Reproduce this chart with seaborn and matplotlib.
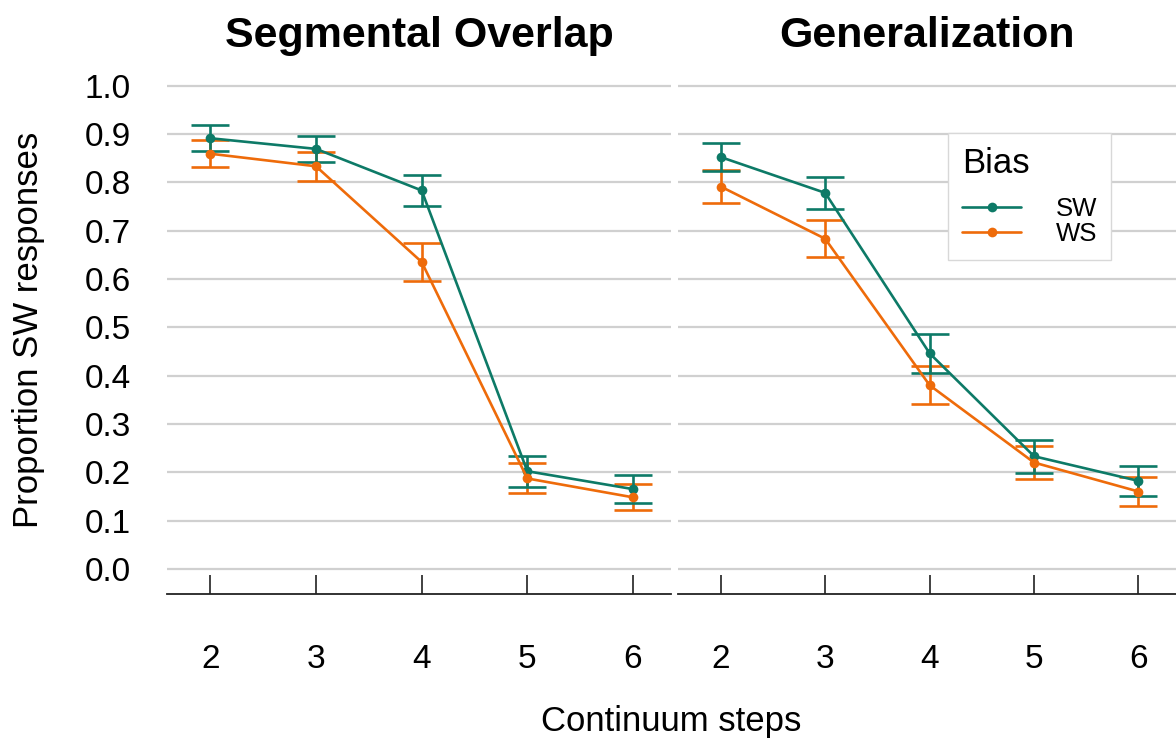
import numpy as np
import pandas as pd
import matplotlib
matplotlib.use("Agg")
import matplotlib.pyplot as plt
import seaborn as sns

# Valeurs (moyenne et erreur standard)
steps = [2, 3, 4, 5, 6]
panels = ["Segmental Overlap", "Generalization"]
biases = ["SW", "WS"]

seg_sw = [0.891, 0.869, 0.783, 0.202, 0.165]
seg_sw_se = [0.027, 0.027, 0.032, 0.032, 0.029]
seg_ws = [0.859, 0.833, 0.635, 0.187, 0.148]
seg_ws_se = [0.028, 0.030, 0.039, 0.031, 0.027]

gen_sw = [0.852, 0.778, 0.446, 0.233, 0.182]
gen_sw_se = [0.029, 0.033, 0.040, 0.034, 0.031]
gen_ws = [0.791, 0.683, 0.380, 0.220, 0.160]
gen_ws_se = [0.034, 0.038, 0.039, 0.034, 0.030]

rows = []
for panel, series in zip(panels, [(seg_sw, seg_sw_se, seg_ws, seg_ws_se),
                                  (gen_sw, gen_sw_se, gen_ws, gen_ws_se)]):
    for bias, vals, ses in [("SW", series[0], series[1]), ("WS", series[2], series[3])]:
        for s, v, e in zip(steps, vals, ses):
            rows.append({"panel": panel, "Bias": bias, "step": s, "prop": v, "se": e})
df = pd.DataFrame(rows)

couleurs = {"SW": "#0D7A67", "WS": "#EE6B0A"}

sns.set_style("white")
plt.rcParams["font.family"] = ["Liberation Sans", "DejaVu Sans"]
plt.rcParams["text.color"] = "black"
plt.rcParams["xtick.color"] = "#333333"
plt.rcParams["xtick.labelcolor"] = "black"
plt.rcParams["ytick.labelcolor"] = "black"

fig = plt.figure(figsize=(11.76, 7.42), dpi=100)
h = 0.899 - 0.1995
ax1 = fig.add_axes([0.142, 0.1995, 0.4286, h])
ax2 = fig.add_axes([0.5765, 0.1995, 0.4235, h], sharey=ax1)

for ax, panel in zip([ax1, ax2], panels):
    d = df[df["panel"] == panel]
    for bias in ["WS", "SW"]:
        b = d[d["Bias"] == bias]
        ax.errorbar(b["step"], b["prop"], yerr=b["se"], fmt="none",
                    ecolor=couleurs[bias], elinewidth=1.9, capsize=13.5,
                    capthick=1.9, zorder=3)
    sns.lineplot(data=d, x="step", y="prop", hue="Bias", hue_order=biases,
                 palette=couleurs, marker="o", markersize=7, markeredgewidth=0,
                 linewidth=1.9, ax=ax, legend=(ax is ax2), zorder=4)
    ax.set_title(panel, fontsize=31, fontweight="bold", pad=20, color="black")
    ax.set_xlim(1.59, 6.36)
    ax.set_ylim(-0.052, 1.022)
    ax.set_xticks(steps)
    ax.set_yticks(np.arange(0, 1.01, 0.1))
    ax.yaxis.grid(True, color="#D0D0D0", linewidth=1.6)
    ax.xaxis.grid(False)
    for side in ["top", "right", "left"]:
        ax.spines[side].set_visible(False)
    ax.spines["bottom"].set_color("#222222")
    ax.spines["bottom"].set_linewidth(1.3)
    ax.tick_params(axis="x", bottom=True, direction="in", length=14, width=1.3,
                   color="#333333", labelsize=24, pad=36)
    ax.tick_params(axis="y", left=False, length=0, labelsize=24, pad=26)
    ax.set_xlabel("")
    ax.set_ylabel("")

ax1.set_yticklabels([f"{v:.1f}" for v in np.arange(0, 1.01, 0.1)])
ax2.tick_params(axis="y", labelleft=False)

leg = ax2.legend(title="Bias", loc="upper left", bbox_to_anchor=(0.542, 0.888),
                 borderaxespad=0, fontsize=18.5, title_fontsize=25, frameon=True,
                 fancybox=False, handlelength=2.3, handletextpad=1.35,
                 borderpad=0.55, labelspacing=0.05, alignment="left")
leg._legend_box.sep = 12
leg.get_frame().set_edgecolor("#D8D8D8")
leg.get_frame().set_linewidth(1.0)
leg.get_frame().set_alpha(1)

fig.text(0.571, 0.027, "Continuum steps", ha="center", va="center", fontsize=25)
fig.text(0.024, 0.555, "Proportion SW responses", ha="center", va="center",
         rotation=90, fontsize=25)

fig.savefig("out.png", dpi=100)
